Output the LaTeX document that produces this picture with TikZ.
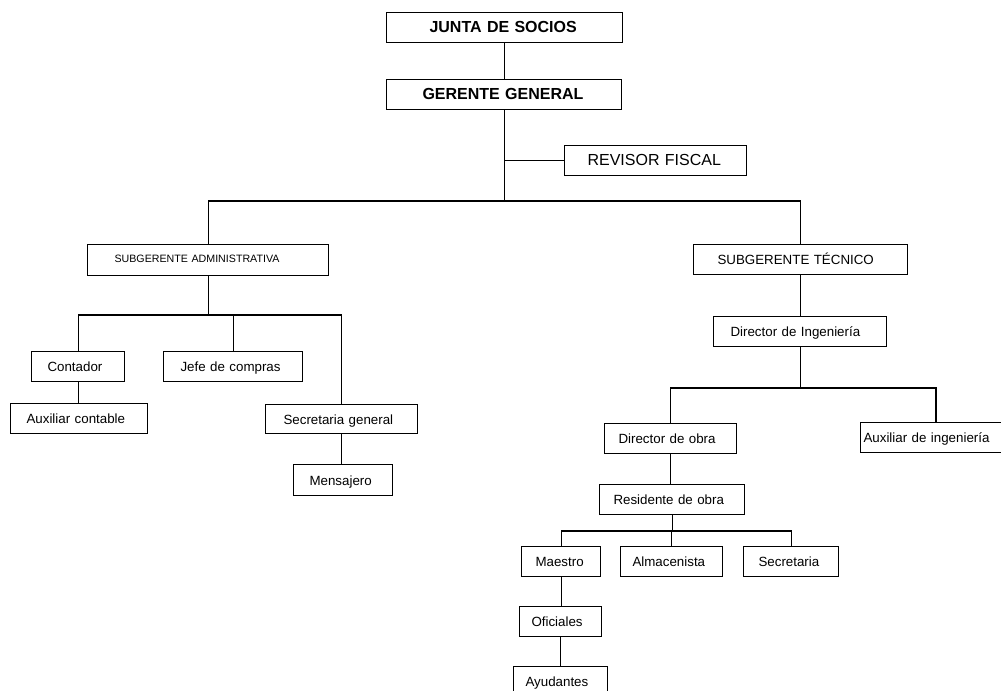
\documentclass[tikz,border=0pt]{standalone}
\usepackage{fontspec}
\setmainfont{Liberation Sans}
\tikzset{
  box/.style={draw=black,line width=0.8pt,rectangle,inner ysep=0pt,align=left,
    text height=0.9em,text depth=0.1em,
    font=\fontsize{10}{12}\selectfont},
  big/.style={font=\fontsize{12}{14}\selectfont\bfseries},
  mid/.style={font=\fontsize{12}{14}\selectfont},
  small/.style={font=\fontsize{8}{10}\selectfont,text height=0.75em,text depth=0.4em},
  link/.style={draw=black,line width=0.8pt},
}
\newcommand\orgbox[8]{%
  \pgfmathsetmacro\obW{(#5-#3)*0.75}%
  \pgfmathsetmacro\obH{(#6-#4)*0.75}%
  \pgfmathsetmacro\obT{(#5-#3-2*#7)*0.75}%
  \pgfmathsetmacro\obP{#7*0.75}%
  \node[box,#1,anchor=north west,minimum width=\obW pt,minimum height=\obH pt,
        text width=\obT pt,inner xsep=\obP pt] (#2) at (#3,#4) {\mbox{#8}};}
\begin{document}
\begin{tikzpicture}[x=0.75pt,y=-0.75pt]
\useasboundingbox (0,0) rectangle (1001,690);
% top
\orgbox{big}{junta}{386}{12}{622}{42}{43}{JUNTA DE SOCIOS}
\orgbox{big}{gerente}{386}{79}{621}{109}{36}{GERENTE GENERAL}
\orgbox{mid}{revisor}{564}{145}{746}{175}{23}{REVISOR FISCAL}
\orgbox{small}{sa}{87}{244}{328}{275}{27}{SUBGERENTE ADMINISTRATIVA}
\orgbox{}{st}{693}{244}{907}{274}{24}{SUBGERENTE TÉCNICO}
% administrative side
\orgbox{}{contador}{31}{351}{124}{381}{16}{Contador}
\orgbox{}{jefe}{163}{351}{302}{381}{17}{Jefe de compras}
\orgbox{}{auxcont}{10}{403}{147}{433}{16}{Auxiliar contable}
\orgbox{}{secgen}{265}{404}{417}{433}{18}{Secretaria general}
\orgbox{}{mensajero}{293}{464}{392}{495}{16}{Mensajero}
% technical side
\orgbox{}{diring}{713}{316}{886}{346}{17}{Director de Ingeniería}
\orgbox{}{dirobra}{604}{423}{736}{453}{14}{Director de obra}
\orgbox{}{auxing}{860}{422}{1012}{452}{3}{Auxiliar de ingeniería}
\orgbox{}{residente}{599}{484}{744}{514}{14}{Residente de obra}
\orgbox{}{maestro}{521}{546}{600}{576}{14}{Maestro}
\orgbox{}{almacen}{620}{546}{722}{576}{12}{Almacenista}
\orgbox{}{secretaria}{743}{546}{838}{576}{15}{Secretaria}
\orgbox{}{oficiales}{519}{606}{601}{636}{12}{Oficiales}
\orgbox{}{ayudantes}{513}{666}{607}{696}{12}{Ayudantes}
% bars
\coordinate (bar1) at (0,201);
\coordinate (bar2) at (0,315);
\coordinate (bar3) at (0,388);
\coordinate (bar4) at (0,531);
\coordinate (auxtop) at (936,422);
% connectors
\draw[link] (junta.south) -- (junta.south |- gerente.north);
\draw[link] (gerente.south) -- (gerente.south |- bar1);
\draw[link] (revisor.west) -- (revisor.west -| gerente.south);
\draw[link] (sa.north) -- (sa.north |- bar1) -- (st.north |- bar1) -- (st.north);
\draw[link] (sa.south) -- (sa.south |- bar2);
\draw[link] (contador.north) -- (contador.north |- bar2) -- (secgen.north |- bar2) -- (secgen.north);
\draw[link] (jefe.north) -- (jefe.north |- bar2);
\draw[link] (contador.south) -- (contador.south |- auxcont.north);
\draw[link] (secgen.south) -- (secgen.south |- mensajero.north);
\draw[link] (st.south) -- (st.south |- diring.north);
\draw[link] (diring.south) -- (diring.south |- bar3);
\draw[link] (dirobra.north) -- (dirobra.north |- bar3) -- (auxtop |- bar3) -- (auxtop);
\draw[link] (dirobra.south) -- (dirobra.south |- residente.north);
\draw[link] (residente.south) -- (residente.south |- bar4);
\draw[link] (maestro.north) -- (maestro.north |- bar4) -- (secretaria.north |- bar4) -- (secretaria.north);
\draw[link] (almacen.north) -- (almacen.north |- bar4);
\draw[link] (maestro.south) -- (maestro.south |- oficiales.north);
\draw[link] (oficiales.south) -- (oficiales.south |- ayudantes.north);
\end{tikzpicture}
\end{document}
